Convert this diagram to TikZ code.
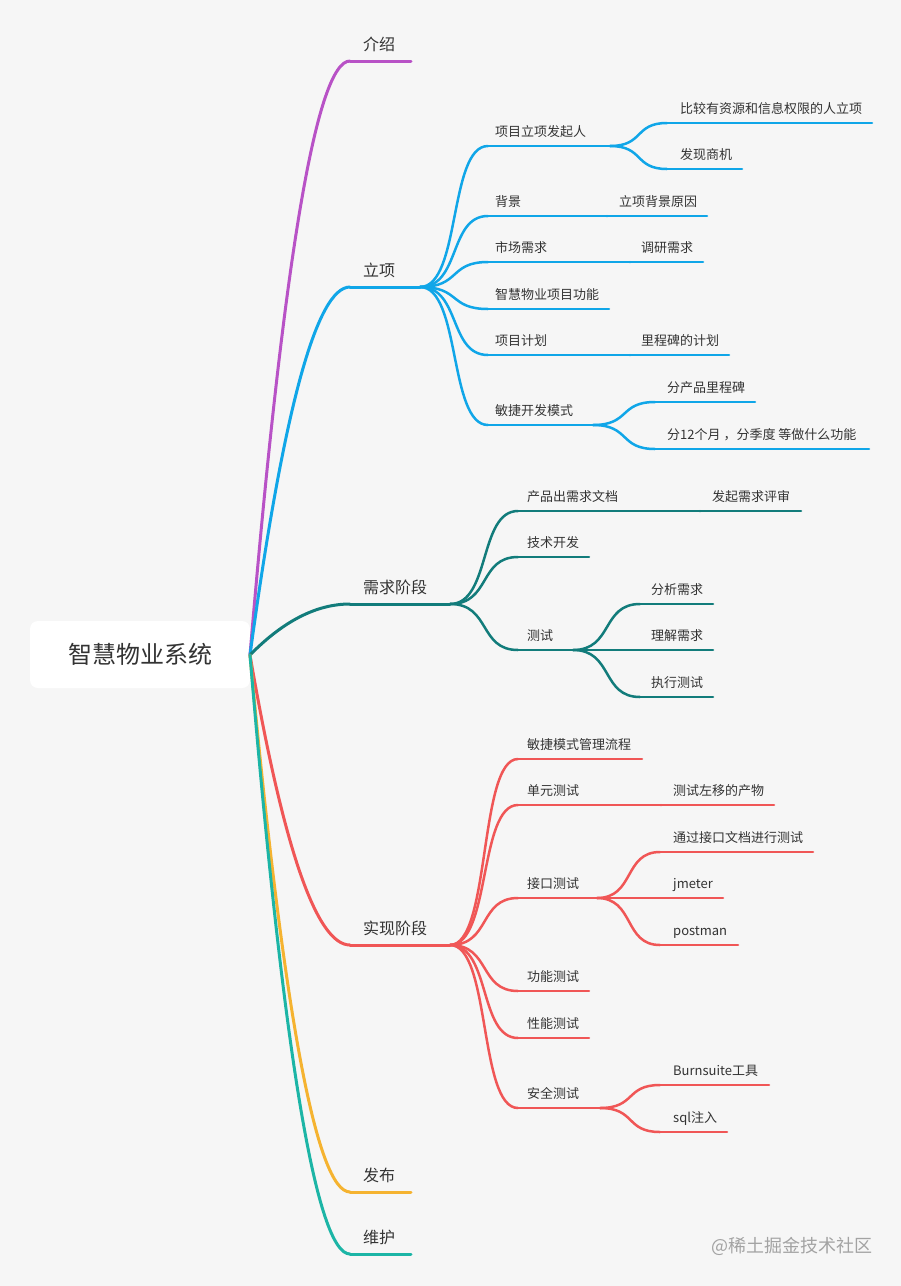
\documentclass[tikz,border=0pt]{standalone}
\usepackage{fontspec}
\setmainfont{Noto Sans CJK SC}
\usetikzlibrary{calc}
\definecolor{bgc}{HTML}{F6F6F6}
\definecolor{txt}{HTML}{333333}
\definecolor{cpur}{HTML}{B852C6}
\definecolor{cblu}{HTML}{10A6E8}
\definecolor{ctea}{HTML}{127C7B}
\definecolor{cred}{HTML}{F05656}
\definecolor{cora}{HTML}{F5B330}
\definecolor{cgrn}{HTML}{1CB5A6}
\definecolor{wm}{HTML}{A3A3A3}
\tikzset{
  branch/.style={to path={let \p1=(\tikztostart),\p2=(\tikztotarget) in
     .. controls ({\x1+0.6*(\x2-\x1)},\y1) and ({\x1+0.42*(\x2-\x1)},\y2) .. (\tikztotarget)}},
  rootbranch/.style={to path={let \p1=(\tikztostart),\p2=(\tikztotarget) in
     .. controls ({\x1+(\x2-\x1)/3},{\y1+2*(\y2-\y1)/3}) and ({\x2-(\x2-\x1)/3},\y2) .. (\tikztotarget)}},
  lone/.style={line width=3pt,line cap=round},
  ltwo/.style={line width=2.5pt,line cap=round},
  lbla/.style={anchor=base west,inner sep=0pt,text=txt,font=\fontsize{16}{16}\selectfont},
  lblb/.style={anchor=base west,inner sep=0pt,text=txt,font=\fontsize{13}{13}\selectfont},
}
% \TopA{name}{startx}{endx}{liney}{textx}{text}{colour}
\newcommand{\TopA}[7]{%
  \coordinate (#1-s) at (#2,#4);
  \coordinate (#1-e) at (#3,#4);
  \node[lbla] (#1) at (#5,#4-10.5) {#6};
  \draw[lone,#7] (#1-s) -- (#1-e);}
\newcommand{\TopB}[7]{%
  \coordinate (#1-s) at (#2,#4);
  \coordinate (#1-e) at (#3,#4);
  \node[lblb] (#1) at (#5,#4-10) {#6};
  \draw[ltwo,#7] (#1-s) -- (#1-e);}
\begin{document}
\begin{tikzpicture}[x=1pt,y=-1pt]
\fill[bgc] (0,0) rectangle (901,1286);
\useasboundingbox (0,0) rectangle (901,1286);

% root
\node[fill=white,rounded corners=8pt,minimum width=220pt,minimum height=67pt,inner sep=0pt,
      text=txt,font=\fontsize{24}{24}\selectfont] (root) at (140,654.5) {智慧物业系统};
\coordinate (root-e) at (250,655);

% level 1
\TopA{jieshao}{350}{411}{61}{363}{介绍}{cpur}
\TopA{lixiang}{350}{420}{287}{363}{立项}{cblu}
\TopA{xuqiu}{350}{450}{604}{363}{需求阶段}{ctea}
\TopA{shixian}{350}{450}{945}{363}{实现阶段}{cred}
\TopA{fabu}{350}{411}{1192}{363}{发布}{cora}
\TopA{weihu}{350}{411}{1254}{363}{维护}{cgrn}

\draw[lone,cpur] (root-e) to[rootbranch] (jieshao-s);
\draw[lone,cblu] (root-e) to[rootbranch] (lixiang-s);
\draw[lone,ctea] (root-e) to[rootbranch] (xuqiu-s);
\draw[lone,cred] (root-e) to[rootbranch] (shixian-s);
\draw[lone,cora] (root-e) to[rootbranch] (fabu-s);
\draw[lone,cgrn] (root-e) to[rootbranch] (weihu-s);

% 立项 children
\TopB{fqr}{488}{610}{146}{495}{项目立项发起人}{cblu}
\TopB{bj}{488}{607}{216}{495}{背景}{cblu}
\TopB{sc}{488}{630}{262}{495}{市场需求}{cblu}
\TopB{gn}{488}{609}{309}{495}{智慧物业项目功能}{cblu}
\TopB{jh}{488}{630}{355}{495}{项目计划}{cblu}
\TopB{mj}{488}{593}{425}{495}{敏捷开发模式}{cblu}
\foreach \c in {fqr,bj,sc,gn,jh,mj}{\draw[ltwo,cblu] (lixiang-e) to[branch] (\c-s);}

\TopB{bjy}{667}{872}{123}{680}{比较有资源和信息权限的人立项}{cblu}
\TopB{fxsj}{667}{742}{169}{680}{发现商机}{cblu}
\draw[ltwo,cblu] (fqr-e) to[branch] (bjy-s);
\draw[ltwo,cblu] (fqr-e) to[branch] (fxsj-s);

\TopB{lxbj}{607}{707}{216}{619}{立项背景原因}{cblu}
\draw[ltwo,cblu] (bj-e) -- (lxbj-s);
\TopB{dyxq}{630}{703}{262}{641}{调研需求}{cblu}
\draw[ltwo,cblu] (sc-e) -- (dyxq-s);
\TopB{lcb}{630}{729}{355}{641}{里程碑的计划}{cblu}
\draw[ltwo,cblu] (jh-e) -- (lcb-s);

\TopB{fcp}{655}{755}{402}{667}{分产品里程碑}{cblu}
\TopB{fsy}{655}{869}{449}{667}{分12个月 ，分季度 等做什么功能}{cblu}
\draw[ltwo,cblu] (mj-e) to[branch] (fcp-s);
\draw[ltwo,cblu] (mj-e) to[branch] (fsy-s);

% 需求阶段 children
\TopB{cp}{518}{700}{511}{527}{产品出需求文档}{ctea}
\TopB{js}{518}{589}{557}{527}{技术开发}{ctea}
\TopB{cs}{518}{573}{650}{527}{测试}{ctea}
\foreach \c in {cp,js,cs}{\draw[ltwo,ctea] (xuqiu-e) to[branch] (\c-s);}
\TopB{fqps}{700}{801}{511}{712}{发起需求评审}{ctea}
\draw[ltwo,ctea] (cp-e) -- (fqps-s);
\TopB{fx}{640}{713}{604}{651}{分析需求}{ctea}
\TopB{lj}{640}{713}{650}{651}{理解需求}{ctea}
\TopB{zx}{640}{713}{697}{651}{执行测试}{ctea}
\foreach \c in {fx,lj,zx}{\draw[ltwo,ctea] (cs-e) to[branch] (\c-s);}

% 实现阶段 children
\TopB{mjlc}{518}{642}{759}{527}{敏捷模式管理流程}{cred}
\TopB{dy}{518}{661}{805}{527}{单元测试}{cred}
\TopB{jk}{518}{597}{898}{527}{接口测试}{cred}
\TopB{gncs}{518}{589}{991}{527}{功能测试}{cred}
\TopB{xn}{518}{589}{1038}{527}{性能测试}{cred}
\TopB{aq}{518}{600}{1108}{527}{安全测试}{cred}
\foreach \c in {mjlc,dy,jk,gncs,xn,aq}{\draw[ltwo,cred] (shixian-e) to[branch] (\c-s);}
\TopB{zy}{661}{774}{805}{673}{测试左移的产物}{cred}
\draw[ltwo,cred] (dy-e) -- (zy-s);
\TopB{tg}{660}{813}{852}{673}{通过接口文档进行测试}{cred}
\TopB{jm}{660}{723}{898}{673}{jmeter}{cred}
\TopB{pm}{660}{738}{945}{673}{postman}{cred}
\foreach \c in {tg,jm,pm}{\draw[ltwo,cred] (jk-e) to[branch] (\c-s);}
\TopB{bs}{660}{769}{1085}{673}{Burnsuite工具}{cred}
\TopB{sql}{660}{727}{1132}{673}{sql注入}{cred}
\draw[ltwo,cred] (aq-e) to[branch] (bs-s);
\draw[ltwo,cred] (aq-e) to[branch] (sql-s);

% watermark
\node[anchor=west,inner sep=0pt,text=wm,font=\fontsize{18}{18}\selectfont] (wmk) at (711,1246) {@稀土掘金技术社区};
\end{tikzpicture}
\end{document}
